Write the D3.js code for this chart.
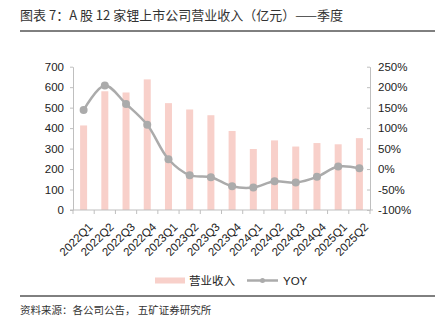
<!DOCTYPE html>
<html><head><meta charset="utf-8">
<script src="https://cdn.jsdelivr.net/npm/d3@7/dist/d3.min.js"></script>
<style>body{margin:0;background:#fff;} svg{display:block;font-family:"Noto Sans CJK SC","Liberation Sans",sans-serif;}</style>
</head><body><svg id="c" width="441" height="332"></svg>
<script>
const categories = ["2022Q1","2022Q2","2022Q3","2022Q4","2023Q1","2023Q2","2023Q3","2023Q4","2024Q1","2024Q2","2024Q3","2024Q4","2025Q1","2025Q2"];
const revenue = [413,580,574,638,522,491,463,386,298,340,310,327,321,351];
const yoy = [144,204,159,108,24,-15,-20,-42,-45,-30,-33,-19,6,2];
const leftTicks = [0,100,200,300,400,500,600,700];
const rightTicks = [-100,-50,0,50,100,150,200,250];
const title = "图表 7：A 股 12 家锂上市公司营业收入（亿元）——季度";
const source = "资料来源：各公司公告， 五矿证券研究所";

const svg = d3.select("#c");
const axisColor = "#BFBFBF";
const m = {l:73, r:370, t:66.7, b:210};

svg.append("text").attr("x",20).attr("y",20).attr("font-size",13).attr("fill","#333").text(title);
svg.append("line").attr("x1",20).attr("x2",435).attr("y1",31).attr("y2",31).attr("stroke","#000").attr("stroke-width",1);

const x = d3.scaleBand().domain(categories).range([m.l,m.r]).paddingInner(0).paddingOuter(0);
const yL = d3.scaleLinear().domain([0,700]).range([m.b,m.t]);
const yR = d3.scaleLinear().domain([-100,250]).range([m.b,m.t]);

const bw = 7;
svg.append("g").selectAll("rect").data(revenue).join("rect")
  .attr("x",(d,i)=>x(categories[i])+x.bandwidth()/2-bw/2)
  .attr("width",bw)
  .attr("y",d=>yL(d)).attr("height",d=>yL(0)-yL(d))
  .attr("fill","#F8D0CA");

function styleAxis(g){
  g.selectAll(".domain").attr("stroke",axisColor);
  g.selectAll(".tick line").attr("stroke",axisColor);
  g.selectAll("text").attr("fill","#222").attr("font-family","'Liberation Sans',Arial,sans-serif").attr("font-size",11.5);
}
const gl = svg.append("g").attr("transform",`translate(${m.l},0)`)
  .call(d3.axisLeft(yL).tickValues(leftTicks).tickSize(3).tickPadding(6).tickSizeOuter(0));
styleAxis(gl);
const gr = svg.append("g").attr("transform",`translate(${m.r},0)`)
  .call(d3.axisRight(yR).tickValues(rightTicks).tickFormat(d=>d+"%").tickSize(0).tickPadding(8).tickSizeOuter(0));
styleAxis(gr);
gr.selectAll(".tick").append("line").attr("x1",-3).attr("x2",0).attr("stroke",axisColor);

// x axis
const gx = svg.append("g").attr("transform",`translate(0,${m.b})`);
gx.append("line").attr("x1",m.l-3).attr("x2",m.r+3).attr("stroke",axisColor);
const bounds = d3.range(categories.length+1).map(i=>m.l+i*x.step());
gx.selectAll("line.t").data(bounds).join("line").attr("class","t")
  .attr("x1",d=>d).attr("x2",d=>d).attr("y1",0).attr("y2",4).attr("stroke",axisColor);
gx.selectAll("text").data(categories).join("text")
  .attr("transform",d=>`translate(${x(d)+x.bandwidth()/2+4},12) rotate(-45)`)
  .attr("text-anchor","end").attr("dy","0.7em")
  .attr("font-family","'Liberation Sans',Arial,sans-serif").attr("font-size",11.5).attr("fill","#222")
  .text(d=>d);

// yoy line
const line = d3.line().x((d,i)=>x(categories[i])+x.bandwidth()/2).y(d=>yR(d)).curve(d3.curveCatmullRom.alpha(0.5));
svg.append("path").datum(yoy).attr("d",line).attr("fill","none").attr("stroke","#ABABAB").attr("stroke-width",2.5);
svg.append("g").selectAll("circle").data(yoy).join("circle")
  .attr("cx",(d,i)=>x(categories[i])+x.bandwidth()/2).attr("cy",d=>yR(d)).attr("r",4).attr("fill","#ABABAB");

// legend
const lg = svg.append("g");
lg.append("rect").attr("x",155).attr("y",277.5).attr("width",30).attr("height",6).attr("fill","#F8D0CA");
lg.append("text").attr("x",189).attr("y",285).attr("font-size",11.5).attr("fill","#222").text("营业收入");
lg.append("line").attr("x1",247).attr("x2",278).attr("y1",280.5).attr("y2",280.5).attr("stroke","#ABABAB").attr("stroke-width",2.5);
lg.append("circle").attr("cx",262.5).attr("cy",280.5).attr("r",2.5).attr("fill","#ABABAB");
lg.append("text").attr("x",283).attr("y",285).attr("font-size",11.5).attr("font-family","'Liberation Sans',Arial,sans-serif").attr("fill","#222").text("YOY");

svg.append("line").attr("x1",20).attr("x2",435).attr("y1",296).attr("y2",296).attr("stroke","#000").attr("stroke-width",1);
svg.append("text").attr("x",20).attr("y",314).attr("font-size",10.5).attr("fill","#333").text(source);
</script></body></html>
